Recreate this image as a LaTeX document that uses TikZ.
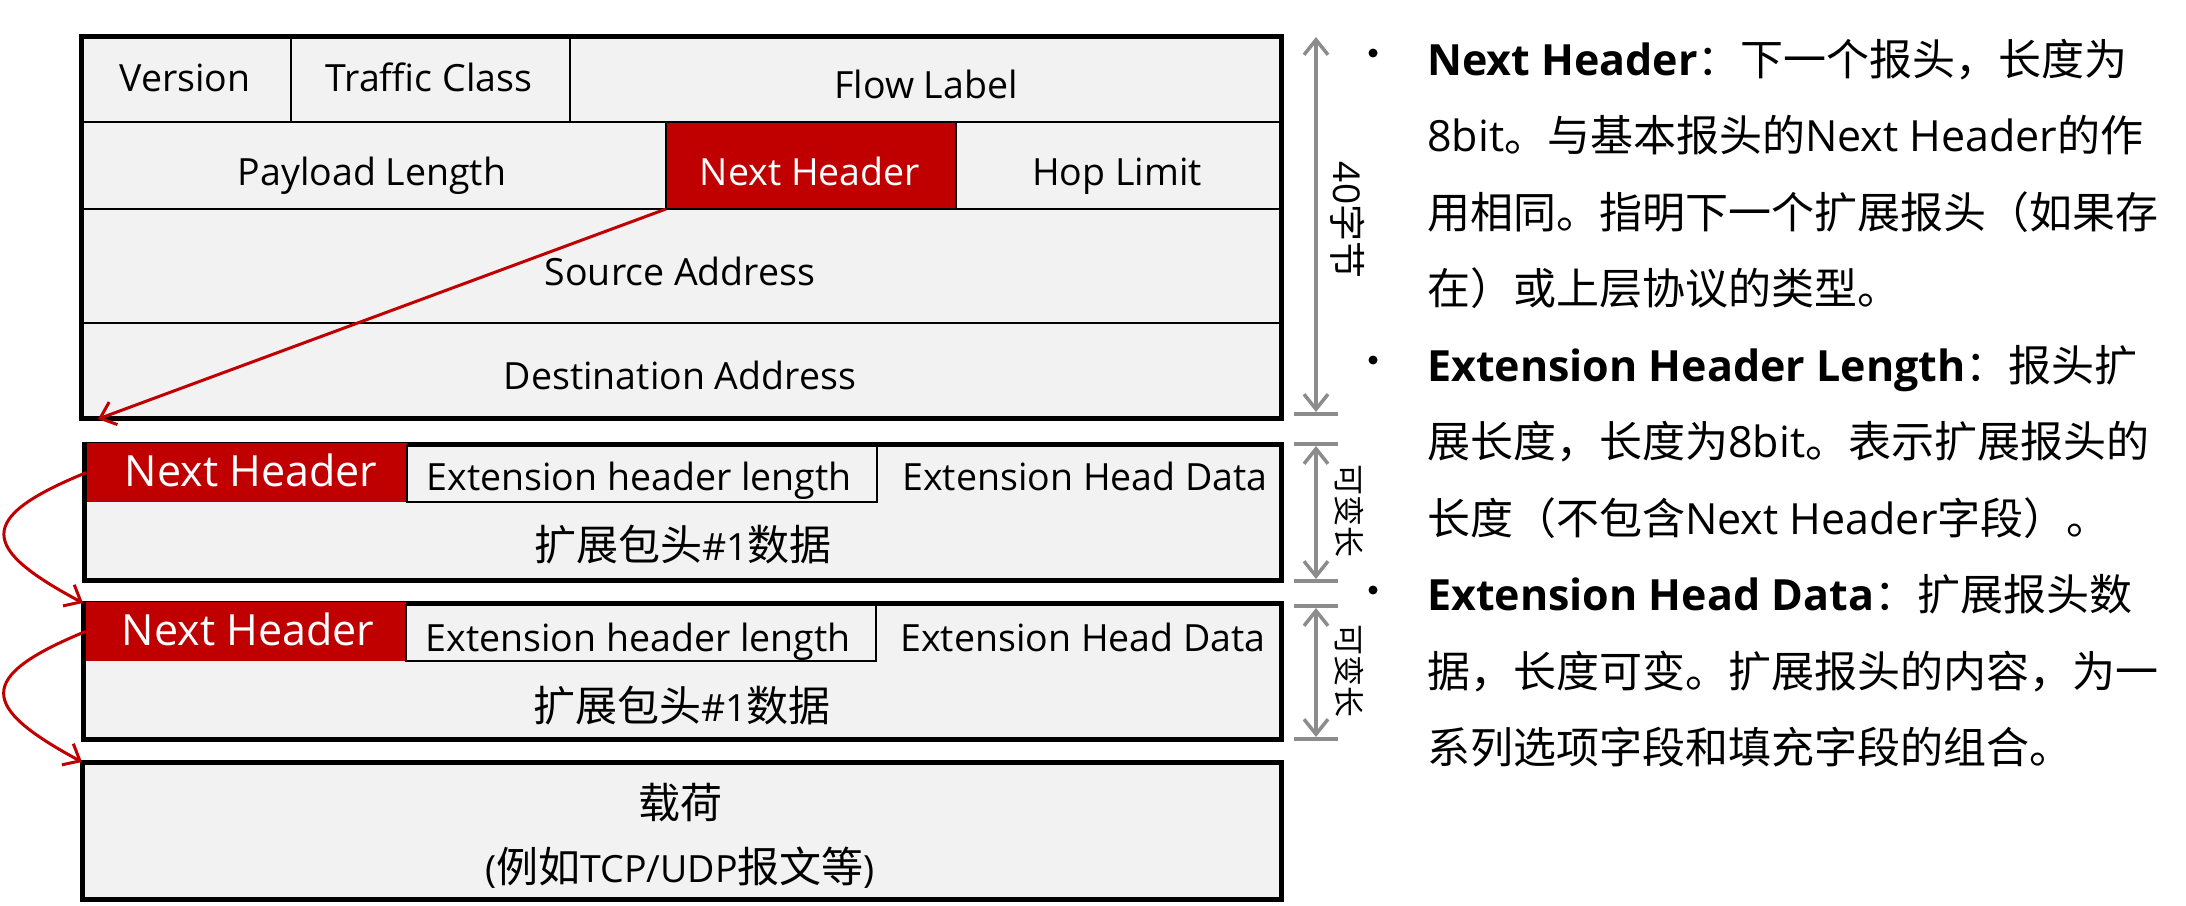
\documentclass[tikz,border=0pt]{standalone}
\usepackage{fontspec}
\setmainfont{Open Sans}
\newfontfamily\cjk{Noto Sans CJK SC}
\usetikzlibrary{arrows.meta,fit}
\definecolor{nhred}{RGB}{192,0,0}
\definecolor{cellgray}{RGB}{242,242,242}
\definecolor{dimgray}{RGB}{140,140,140}
\newcommand{\zb}[1]{{\cjk\fontsize{42}{48}\selectfont #1}}
\newcommand{\zr}[1]{{\cjk #1}}
\begin{document}
\begin{tikzpicture}[x=1pt,y=-1pt,
  cellbox/.style={draw=black, line width=2.5pt, fill=cellgray, inner sep=0pt, outer sep=0pt},
  redcell/.style={fill=nhred, inner sep=0pt, outer sep=0pt},
  thinbox/.style={draw=black, line width=2pt, fill=cellgray, inner sep=0pt, outer sep=0pt},
  outline/.style={draw=black, line width=5pt, inner sep=0pt, outer sep=0pt},
  lbl/.style={anchor=base, inner sep=0pt, font=\fontsize{37.5}{44}\selectfont},
  wlbl/.style={lbl, text=white},
  bigwhite/.style={anchor=base, inner sep=0pt, text=white, font=\fontsize{43}{50}\selectfont},
  rline/.style={anchor=base west, inner sep=0pt, font=\fontsize{43}{50}\selectfont},
  dimline/.style={draw=dimgray, line width=3.5pt, >={Straight Barb[length=15pt,width=24pt]}, <->},
  tickline/.style={draw=dimgray, line width=3.5pt},
  redarrow/.style={draw=nhred, line width=3pt, -{Straight Barb[length=14pt,width=24pt]}},
  dotmark/.style={circle, fill=black, inner sep=0pt, minimum size=9pt},
  vlabel/.style={rotate=-90, inner sep=0pt, anchor=center}
]
\useasboundingbox (0,0) rectangle (2186,905);

% ---------- IPv6 basic header ----------
\node[cellbox, fit={(81,36) (291,122)}] (ver) {};
\node[cellbox, fit={(291,36) (570,122)}] (tc) {};
\node[cellbox, fit={(570,36) (1281,122)}] (fl) {};
\node[cellbox, fit={(81,122) (666,209)}] (pl) {};
\node[cellbox, fill=nhred, fit={(666,122) (956,209)}] (nh0) {};
\node[cellbox, fit={(956,122) (1281,209)}] (hl) {};
\node[cellbox, fit={(81,209) (1281,323)}] (sa) {};
\node[cellbox, fit={(81,323) (1281,418)}] (da) {};
\node[outline, fit={(81,36) (1281,418)}] (main) {};

\node[lbl] (tver) at (185,91.5) {Version};
\node[lbl] (ttc) at (429,91.5) {Traffic Class};
\node[lbl] (tfl) at (926,98.5) {Flow Label};
\node[lbl] (tpl) at (372,185) {Payload Length};
\node[wlbl] (tnh0) at (810,185) {Next Header};
\node[lbl] (thl) at (1117,185) {Hop Limit};
\node[lbl] (tsa) at (680,285.5) {Source Address};
\node[lbl] (tda) at (680,389.5) {Destination Address};

% ---------- extension header 1 ----------
\node[outline, fill=cellgray, fit={(84,444) (1281,580)}] (ext1) {};
\node[redcell, fit={(86.5,443) (407,502)}] (nh1) {};
\node[thinbox, fit={(407,446) (877,502)}] (ehl1) {};
\node[bigwhite] (tnh1) at (251,486.5) {Next Header};
\node[lbl] (tehl1) at (639,490.5) {Extension header length};
\node[lbl] (tehd1) at (1085,490.5) {Extension Head Data};
\node[lbl] (tdat1) at (683,560) {\zb{扩展包头}\#1\zb{数据}};

% ---------- extension header 2 ----------
\node[outline, fill=cellgray, fit={(83,603) (1281,739)}] (ext2) {};
\node[redcell, fit={(85.5,602) (406,661)}] (nh2) {};
\node[thinbox, fit={(406,605) (876,661)}] (ehl2) {};
\node[bigwhite] (tnh2) at (248,645.5) {Next Header};
\node[lbl] (tehl2) at (638,651) {Extension header length};
\node[lbl] (tehd2) at (1083,651) {Extension Head Data};
\node[lbl] (tdat2) at (682,721) {\zb{扩展包头}\#1\zb{数据}};

% ---------- payload ----------
\node[outline, fill=cellgray, fit={(82,762) (1281,899)}] (pay) {};
\node[lbl] (tpay1) at (680,818) {\zb{载荷}};
\node[lbl] (tpay2) at (680,882) {(\zb{例如}TCP/UDP\zb{报文等})};

% ---------- red next-header arrows ----------
\coordinate (t0) at (98,419);
\draw[redarrow] (nh0.south west) -- (t0);
\draw[redarrow] (nh1.west) .. controls (-25,518) and (-20,548) .. (ext2.north west);
\draw[redarrow] (nh2.west) .. controls (-25,677) and (-20,707) .. (pay.north west);

% ---------- dimension marks ----------
\coordinate (d0a) at (1316,37);
\coordinate (d0b) at (1316,412);
\coordinate (k0l) at (1294,414);
\coordinate (k0r) at (1338,414);
\draw[dimline] (d0a) -- (d0b);
\draw[tickline] (k0l) -- (k0r);
\node[vlabel, font=\fontsize{37}{40}\selectfont] (lab40) at (1348,220) {40\zr{字节}};

\coordinate (k1l) at (1294,444);
\coordinate (k1r) at (1338,444);
\coordinate (k2l) at (1294,581);
\coordinate (k2r) at (1338,581);
\coordinate (d1a) at (1316,446);
\coordinate (d1b) at (1316,579);
\draw[tickline] (k1l) -- (k1r);
\draw[tickline] (k2l) -- (k2r);
\draw[dimline] (d1a) -- (d1b);
\node[vlabel, font=\fontsize{31}{34}\selectfont] (labv1) at (1349,511) {\zr{可变长}};

\coordinate (k3l) at (1294,606);
\coordinate (k3r) at (1338,606);
\coordinate (k4l) at (1294,739);
\coordinate (k4r) at (1338,739);
\coordinate (d2a) at (1316,608);
\coordinate (d2b) at (1316,737);
\draw[tickline] (k3l) -- (k3r);
\draw[tickline] (k4l) -- (k4r);
\draw[dimline] (d2a) -- (d2b);
\node[vlabel, font=\fontsize{31}{34}\selectfont] (labv2) at (1349,671) {\zr{可变长}};

% ---------- right-hand description ----------
\node[dotmark] (b1) at (1373,53) {};
\node[dotmark] (b2) at (1373,360) {};
\node[dotmark] (b3) at (1373,590) {};

\node[rline] (l1) at (1427,75) {\textbf{Next Header}\zr{：下一个报头，长度为}};
\node[rline] (l2) at (1427,151.5) {8bit\zr{。与基本报头的}Next Header\zr{的作}};
\node[rline] (l3) at (1427,228) {\zr{用相同。指明下一个扩展报头（如果存}};
\node[rline] (l4) at (1427,304.5) {\zr{在）或上层协议的类型。}};
\node[rline] (l5) at (1427,381) {\textbf{Extension Header Length}\zr{：报头扩}};
\node[rline] (l6) at (1427,457.5) {\zr{展长度，长度为}8bit\zr{。表示扩展报头的}};
\node[rline] (l7) at (1427,534) {\zr{长度（不包含}Next Header\zr{字段）。}};
\node[rline] (l8) at (1427,610.5) {\textbf{Extension Head Data}\zr{：扩展报头数}};
\node[rline] (l9) at (1427,687) {\zr{据，长度可变。扩展报头的内容，为一}};
\node[rline] (l10) at (1427,763.5) {\zr{系列选项字段和填充字段的组合。}};
\end{tikzpicture}
\end{document}
